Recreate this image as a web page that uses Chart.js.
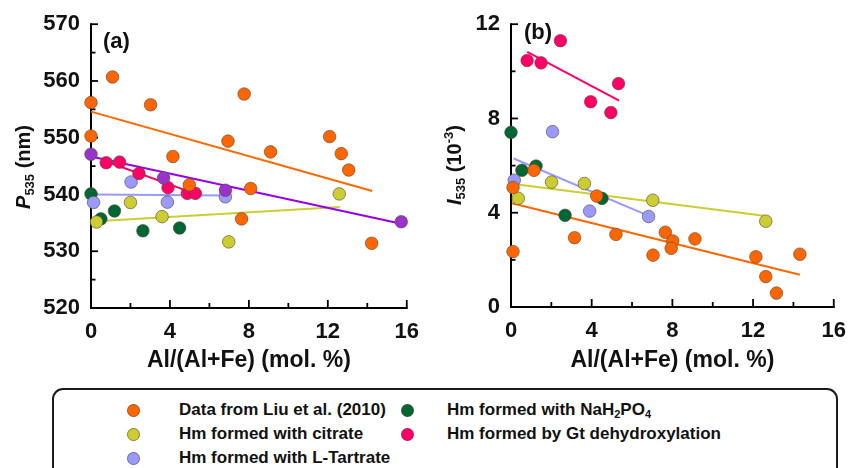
<!DOCTYPE html>
<html>
<head>
<meta charset="utf-8">
<script src="https://cdn.jsdelivr.net/npm/chart.js@4.4.1/dist/chart.umd.min.js"></script>
<style>
  body { margin:0; background:#fff; width:857px; height:468px; overflow:hidden; position:relative;
         font-family:"Liberation Sans", Arial, sans-serif; }
  #wa { position:absolute; left:0; top:0; }
  #wb { position:absolute; left:430px; top:0; }
  .legend { position:absolute; left:52px; top:388px; width:786px; height:110px; border:2px solid #1a1a1a;
            border-radius:11px; box-sizing:border-box; }
  .item { position:absolute; font-weight:bold; font-size:17px; color:#111; line-height:20px; white-space:nowrap; }
  .item sub { font-size:11px; line-height:0; vertical-align:-3px; }
  .dot { position:absolute; width:13px; height:13px; border-radius:50%; box-sizing:border-box;
         border:1px solid rgba(90,70,50,0.55); }
</style>
</head>
<body>
<canvas id="wa" width="430" height="380"></canvas>
<canvas id="wb" width="427" height="380"></canvas>

<div class="legend"></div>
<div class="dot" style="left:127px;top:404px;background:#FF6600"></div>
<div class="item" style="left:179px;top:400px">Data from Liu et al. (2010)</div>
<div class="dot" style="left:127px;top:428px;background:#CCCC33"></div>
<div class="item" style="left:179px;top:424px">Hm formed with citrate</div>
<div class="dot" style="left:127px;top:452px;background:#9999FF"></div>
<div class="item" style="left:179px;top:448px">Hm formed with L-Tartrate</div>
<div class="dot" style="left:401px;top:404px;background:#006633"></div>
<div class="item" style="left:447px;top:400px">Hm formed with NaH<sub>2</sub>PO<sub>4</sub></div>
<div class="dot" style="left:401px;top:428px;background:#FF0066"></div>
<div class="item" style="left:447px;top:424px">Hm formed by Gt dehydroxylation</div>

<script>
// ---- Panel (a): peak position P535 (nm) vs Al/(Al+Fe) (mol. %) ----
const liuX_a   = [0, 0, 1.09, 3.02, 4.15, 4.98, 6.94, 7.76, 7.63, 8.09, 9.1, 12.09, 12.68, 13.06, 14.22];
const liuP     = [556.2, 550.3, 560.7, 555.8, 546.7, 541.7, 549.4, 557.7, 535.7, 541.05, 547.5, 550.2, 547.2, 544.3, 531.4];
const citX_a   = [0.28, 2.0, 3.6, 6.98, 12.58];
const citP     = [535.15, 538.6, 536.1, 531.65, 540.1];
const tarX_a   = [0.13, 2.03, 3.87, 6.81];
const tarP     = [538.6, 542.2, 538.65, 539.6];
const phoX_a   = [0, 0.5, 1.19, 2.63, 4.49];
const phoP     = [540.1, 535.7, 537.1, 533.6, 534.1];
const gtX_a    = [0.77, 1.45, 2.43, 3.9, 4.88, 5.29];
const gtP      = [545.6, 545.7, 543.7, 541.2, 540.2, 540.2];
const purX_a   = [0, 3.68, 6.81, 15.72];
const purP     = [547.1, 542.9, 540.75, 535.2];
// fitted trend lines, panel (a): [x, y] end points
const fitLiuP  = [[0, 554.6], [14.25, 540.6]];
const fitCitP  = [[0.28, 535.3], [12.6, 537.8]];
const fitTarP  = [[0.13, 540.0], [6.81, 539.8]];
const fitGtP   = [[0.77, 545.8], [5.3, 540.1]];
const fitPurP  = [[0, 546.7], [15.72, 534.85]];

// ---- Panel (b): intensity I535 (10^-3) vs Al/(Al+Fe) (mol. %) ----
const liuX_b   = [0.1, 0.1, 1.14, 3.15, 4.25, 5.2, 7.04, 7.65, 8.02, 7.94, 9.12, 12.14, 12.63, 13.16, 14.32];
const liuI     = [5.07, 2.35, 5.8, 2.94, 4.71, 3.08, 2.2, 3.17, 2.8, 2.49, 2.89, 2.13, 1.29, 0.59, 2.24];
const citX_b   = [0.36, 2.01, 3.64, 7.03, 12.63];
const citI     = [4.61, 5.3, 5.24, 4.53, 3.64];
const tarX_b   = [0.16, 2.06, 3.9, 6.82];
const tarI     = [5.38, 7.44, 4.07, 3.84];
const phoX_b   = [0, 0.54, 1.24, 2.68, 4.51];
const phoI     = [7.41, 5.8, 5.98, 3.89, 4.61];
const gtX_b    = [0.8, 1.49, 2.45, 3.95, 4.95, 5.33];
const gtI      = [10.46, 10.36, 11.3, 8.71, 8.25, 9.48];
const fitLiuI  = [[0.05, 4.4], [14.32, 1.37]];
const fitCitI  = [[0.13, 5.22], [12.63, 3.86]];
const fitTarI  = [[0.13, 6.3], [6.83, 3.87]];
const fitGtI   = [[0.8, 10.83], [5.36, 8.76]];

const xTicks = [0, 4, 8, 12, 16];
const xTitle = 'Al/(Al+Fe) (mol. %)';

const FONT = '"Liberation Sans", Arial, sans-serif';
const C = { liu:'#FF6600', cit:'#CCCC33', tar:'#9999FF', pho:'#006633', gt:'#FF0066', pur:'#9933CC', purLine:'#9400F0' };

const pts = (xs, ys) => xs.map((x, i) => ({ x, y: ys[i] }));
const seg = (pairs) => pairs.map(([x, y]) => ({ x, y }));

function scatterSet(xs, ys, color) {
  return { type:'scatter', data: pts(xs, ys), backgroundColor: color, clip: false,
           borderColor:'rgba(90,70,50,0.6)', borderWidth:1, pointRadius:6.3, pointHoverRadius:6.3 };
}
function lineSet(pairs, color) {
  return { type:'line', data: seg(pairs), borderColor: color, borderWidth: 2, clip: false,
           pointRadius: 0, showLine: true, fill: false, tension: 0 };
}

// axis frame with inward ticks (under the markers), then panel tag and y-axis title
const framePlugin = {
  id: 'frame',
  beforeDatasetsDraw(chart, args, o) {
    const { ctx, chartArea: a, scales: { x, y } } = chart;
    ctx.save();
    ctx.strokeStyle = '#000';
    ctx.lineWidth = 2;
    ctx.beginPath();
    ctx.moveTo(a.left, a.top - 1);
    ctx.lineTo(a.left, a.bottom);
    ctx.lineTo(a.right + 1, a.bottom);
    ctx.stroke();
    ctx.lineWidth = 1.8;
    for (let v = x.min; v <= x.max + 1e-9; v += o.xMinor) {
      const px = x.getPixelForValue(v);
      const major = Math.abs(v / o.xMajor - Math.round(v / o.xMajor)) < 1e-6;
      const len = major ? 8 : 5;
      ctx.beginPath(); ctx.moveTo(px, a.bottom); ctx.lineTo(px, a.bottom - len); ctx.stroke();
    }
    for (let v = y.min; v <= y.max + 1e-9; v += o.yMinor) {
      const py = y.getPixelForValue(v);
      const major = Math.abs((v - y.min) / o.yMajor - Math.round((v - y.min) / o.yMajor)) < 1e-6;
      const len = major ? 7 : 4.5;
      ctx.beginPath(); ctx.moveTo(a.left, py); ctx.lineTo(a.left + len, py); ctx.stroke();
    }
    ctx.restore();
  },
  afterDraw(chart, args, o) {
    const { ctx } = chart;
    ctx.save();
    ctx.fillStyle = '#111';
    ctx.font = 'bold 22px ' + FONT;
    ctx.textBaseline = 'middle';
    ctx.textAlign = 'left';
    ctx.fillText(o.tag, o.tagX, o.tagY);
    ctx.translate(o.titleX, o.titleY);
    ctx.rotate(-Math.PI / 2);
    let total = 0;
    for (const p of o.title) { ctx.font = p.font; total += ctx.measureText(p.t).width; }
    let cx = -total / 2;
    for (const p of o.title) {
      ctx.font = p.font;
      ctx.fillText(p.t, cx, p.dy || 0);
      cx += ctx.measureText(p.t).width;
    }
    ctx.restore();
  }
};

function makeOptions(cfg) {
  const tickFont = { family: FONT, size: 22, weight: 'bold' };
  return {
    responsive: false, animation: false,
    layout: { padding: { top: cfg.top, right: cfg.right, left: 0, bottom: 0 } },
    plugins: { legend: { display: false }, tooltip: { enabled: false }, frame: cfg.frame },
    scales: {
      x: { type: 'linear', min: 0, max: 16,
           afterBuildTicks: s => { s.ticks = xTicks.map(v => ({ value: v })); },
           ticks: { padding: 11, font: tickFont, color: '#111' },
           grid: { display: false, drawTicks: false }, border: { display: false },
           title: { display: true, text: xTitle, color: '#111',
                    font: { family: FONT, size: 23, weight: 'bold' }, padding: { top: 0, bottom: 6 } },
           afterFit: s => { s.height = cfg.xHeight; } },
      y: { type: 'linear', min: cfg.yMin, max: cfg.yMax,
           afterBuildTicks: s => { s.ticks = cfg.yTicks.map(v => ({ value: v })); },
           ticks: { padding: 11, font: tickFont, color: '#111' },
           grid: { display: false, drawTicks: false }, border: { display: false },
           afterFit: s => { s.width = cfg.yWidth; } }
    }
  };
}

new Chart(document.getElementById('wa'), {
  data: { datasets: [
    scatterSet(purX_a, purP, C.pur),
    scatterSet(liuX_a, liuP, C.liu),
    scatterSet(gtX_a, gtP, C.gt),
    scatterSet(citX_a, citP, C.cit),
    scatterSet(tarX_a, tarP, C.tar),
    scatterSet(phoX_a, phoP, C.pho),
    lineSet(fitPurP, C.purLine),
    lineSet(fitLiuP, C.liu),
    lineSet(fitGtP, C.gt),
    lineSet(fitCitP, C.cit),
    lineSet(fitTarP, C.tar)
  ] },
  options: makeOptions({
    top: 22, right: 13, xHeight: 72, yWidth: 91, yMin: 520, yMax: 570,
    yTicks: [520, 530, 540, 550, 560, 570],
    frame: { xMajor: 4, xMinor: 2, yMajor: 10, yMinor: 5, tag: '(a)', tagX: 103, tagY: 42,
             titleX: 24, titleY: 167,
             title: [ { t: 'P', font: 'italic bold 20px ' + FONT },
                      { t: '535', font: 'bold 13px ' + FONT, dy: 6 },
                      { t: ' (nm)', font: 'bold 20px ' + FONT } ] }
  }),
  plugins: [framePlugin]
});

new Chart(document.getElementById('wb'), {
  data: { datasets: [
    scatterSet(gtX_b, gtI, C.gt),
    scatterSet(liuX_b, liuI, C.liu),
    scatterSet(citX_b, citI, C.cit),
    scatterSet(tarX_b, tarI, C.tar),
    scatterSet(phoX_b, phoI, C.pho),
    lineSet(fitGtI, C.gt),
    lineSet(fitLiuI, C.liu),
    lineSet(fitCitI, C.cit),
    lineSet(fitTarI, C.tar)
  ] },
  options: makeOptions({
    top: 21, right: 20, xHeight: 73, yWidth: 81, yMin: 0, yMax: 12,
    yTicks: [0, 4, 8, 12],
    frame: { xMajor: 4, xMinor: 2, yMajor: 4, yMinor: 2, tag: '(b)', tagX: 94, tagY: 33,
             titleX: 25, titleY: 165,
             title: [ { t: 'I', font: 'italic bold 20px ' + FONT },
                      { t: '535', font: 'bold 13px ' + FONT, dy: 6 },
                      { t: ' (10', font: 'bold 20px ' + FONT },
                      { t: '-3', font: 'bold 13px ' + FONT, dy: -6 },
                      { t: ')', font: 'bold 20px ' + FONT } ] }
  }),
  plugins: [framePlugin]
});
</script>
</body>
</html>
